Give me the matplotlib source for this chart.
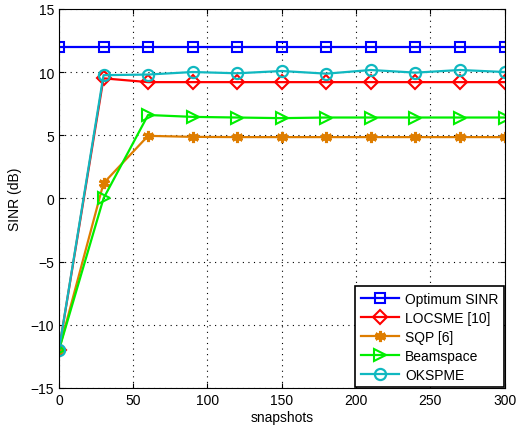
import matplotlib
matplotlib.use("Agg")
import matplotlib.pyplot as plt

# snapshots and SINR values (dB)
snapshots = [0, 30, 60, 90, 120, 150, 180, 210, 240, 270, 300]
optimum = [12.0] * 11
locsme = [-12.0, 9.5, 9.2, 9.2, 9.2, 9.2, 9.2, 9.2, 9.2, 9.2, 9.2]
sqp = [-12.0, 1.2, 4.95, 4.87, 4.85, 4.85, 4.85, 4.85, 4.85, 4.85, 4.85]
beamspace = [-12.0, 0.0, 6.6, 6.45, 6.4, 6.35, 6.4, 6.4, 6.4, 6.4, 6.4]
okspme = [-12.0, 9.75, 9.8, 10.0, 9.9, 10.08, 9.87, 10.16, 9.95, 10.16, 10.0]

plt.rcParams['font.family'] = ['Liberation Sans', 'DejaVu Sans']

fig = plt.figure(figsize=(5.17, 4.27), dpi=100)
ax = fig.add_axes([0.114, 0.089, 0.862, 0.888])

lw = 1.6
ax.plot(snapshots, optimum, color='#0000ff', lw=lw, marker='s', ms=7,
        mfc='none', mew=1.5, label='Optimum SINR')
ax.plot(snapshots, locsme, color='#ff0000', lw=lw, marker='D', ms=7,
        mfc='none', mew=1.5, label='LOCSME [10]')
ax.plot(snapshots, sqp, color='#de7d00', lw=lw, marker=(6, 2, 0), ms=8,
        mew=2.2, label='SQP [6]')
ax.plot(snapshots, beamspace, color='#00ee00', lw=lw, marker='>', ms=8.5,
        mfc='none', mew=1.5, label='Beamspace')
ax.plot(snapshots, okspme, color='#10b8c0', lw=lw, marker='o', ms=8,
        mfc='none', mew=1.6, label='OKSPME')

ax.set_xlim(0, 300)
ax.set_ylim(-15, 15)
ax.set_xticks(range(0, 301, 50))
ax.set_yticks(range(-15, 16, 5))
ax.tick_params(direction='in', labelsize=10, top=True, right=True)
ax.grid(True, linestyle=(0, (1, 4)), color='black', lw=0.8)
ax.set_xlabel('snapshots', fontsize=10, labelpad=2)
ax.set_ylabel('SINR (dB)', fontsize=10, labelpad=6)

leg = ax.legend(loc='lower right', fontsize=10, fancybox=False,
                edgecolor='black', framealpha=1, borderaxespad=0.05,
                handlelength=2.8, labelspacing=0.36, handletextpad=0.4)
leg.get_frame().set_linewidth(1.2)

fig.savefig('out.png', dpi=100)
